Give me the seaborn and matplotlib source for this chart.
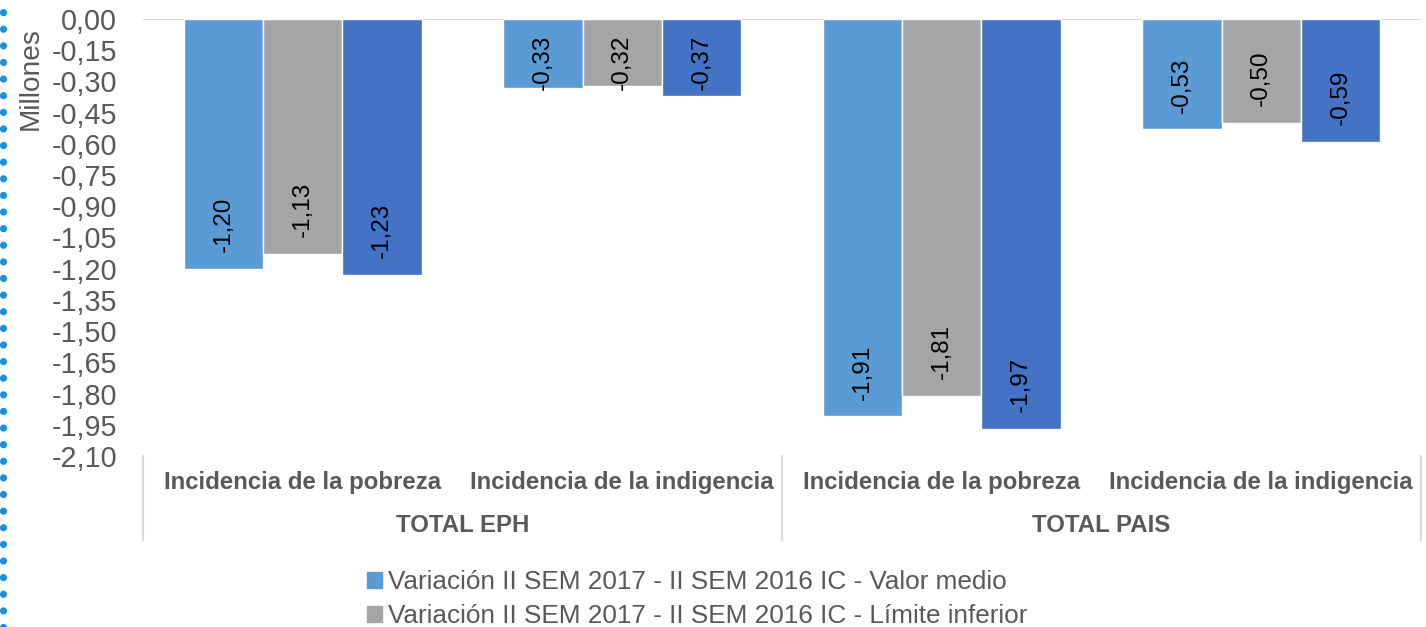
import numpy as np
import pandas as pd
import matplotlib
matplotlib.use("Agg")
import matplotlib.pyplot as plt
import seaborn as sns
from matplotlib.lines import Line2D

# data (millions)
categories = ["EPH pobreza", "EPH indigencia", "PAIS pobreza", "PAIS indigencia"]
cat_labels = ["Incidencia de la pobreza", "Incidencia de la indigencia",
              "Incidencia de la pobreza", "Incidencia de la indigencia"]
groups = ["TOTAL EPH", "TOTAL PAIS"]
series = ["Variación II SEM 2017 - II SEM 2016 IC - Valor medio",
          "Variación II SEM 2017 - II SEM 2016 IC - Límite inferior",
          "Variación II SEM 2017 - II SEM 2016 IC - Límite superior"]
valor_medio = [-1.20, -0.33, -1.91, -0.53]
limite_inf = [-1.13, -0.32, -1.81, -0.50]
limite_sup = [-1.23, -0.37, -1.97, -0.59]
yticks = [0.0, -0.15, -0.30, -0.45, -0.60, -0.75, -0.90, -1.05, -1.20,
          -1.35, -1.50, -1.65, -1.80, -1.95, -2.10]

colors = ["#5B9BD5", "#A5A5A5", "#4472C4"]
txt = "#595959"
line_c = "#D9D9D9"

rows = []
for s, vals in zip(series, [valor_medio, limite_inf, limite_sup]):
    for c, v in zip(categories, vals):
        rows.append({"cat": c, "serie": s, "valor": v})
df = pd.DataFrame(rows)

sns.set_theme(style="white")
plt.rcParams["font.family"] = ["Liberation Sans", "DejaVu Sans"]

fig = plt.figure(figsize=(14.26, 6.27), dpi=100)
ax = fig.add_axes([143 / 1426, 1 - 456 / 627, (1421 - 143) / 1426, (456 - 19) / 627])

sns.barplot(data=df, x="cat", y="valor", hue="serie", order=categories,
            hue_order=series, palette=colors, width=0.745, saturation=1,
            errorbar=None, ax=ax, zorder=2)

ax.set_xlim(-0.5, 3.5)
ax.set_ylim(-2.10, 0)
ax.set_yticks(yticks)
ax.set_yticklabels([f"{t:.2f}".replace(".", ",") for t in yticks],
                   fontsize=20.7, color=txt)
ax.set_xticks(range(len(categories)))
ax.set_xticklabels(cat_labels, fontsize=17.3, fontweight="bold", color=txt)
ax.tick_params(axis="both", length=0)
ax.tick_params(axis="x", pad=11)
ax.tick_params(axis="y", pad=18.5)
ax.set_xlabel("")
ax.set_ylabel("")
for sp in ax.spines.values():
    sp.set_visible(False)
ax.axhline(0, color=line_c, lw=1.5, zorder=1)

# group labels and separators under the category axis
trans = ax.get_xaxis_transform()
for i, g in enumerate(groups):
    ax.text(2 * i + 0.5, -0.16, g, transform=trans, ha="center", va="center",
            fontsize=17.3, fontweight="bold", color=txt)
for xs in [-0.5, 1.5, 3.5]:
    ax.plot([xs, xs], [0, -0.192], transform=trans, color=line_c, lw=1.5,
            clip_on=False)

# data labels, inside end of each bar
for cont in ax.containers:
    for p in cont:
        v = p.get_height()
        yb = min(v + 0.08, -0.342)
        ax.text(p.get_x() + p.get_width() / 2, yb,
                f"{v:.2f}".replace(".", ","), rotation=90, ha="center",
                va="bottom", fontsize=17.5, color="black", zorder=3)

# legend: only the first two entries fit on the page in the original
ax.get_legend().remove()
handles = [plt.Rectangle((0, 0), 1, 1, color=c) for c in colors[:2]]
fig.legend(handles, series[:2], loc="upper left",
           bbox_to_anchor=(367 / 1426, 1 - 570 / 627), frameon=False,
           fontsize=18.8, labelcolor=txt, handlelength=0.57, handleheight=0.57,
           handletextpad=0.25, labelspacing=0.38, borderpad=0, borderaxespad=0)

fig.text(31 / 1426, 1 - 79 / 627, "Millones", rotation=90, ha="center",
         va="center", fontsize=20.2, color=txt)

# dotted page border on the left
fig.add_artist(Line2D([3 / 1426, 3 / 1426], [0, 1], transform=fig.transFigure,
                      color="#1A8FDA", lw=5.2, linestyle=(0, (0.001, 2.3)),
                      dash_capstyle="round"))

fig.savefig("out.png", dpi=100)
